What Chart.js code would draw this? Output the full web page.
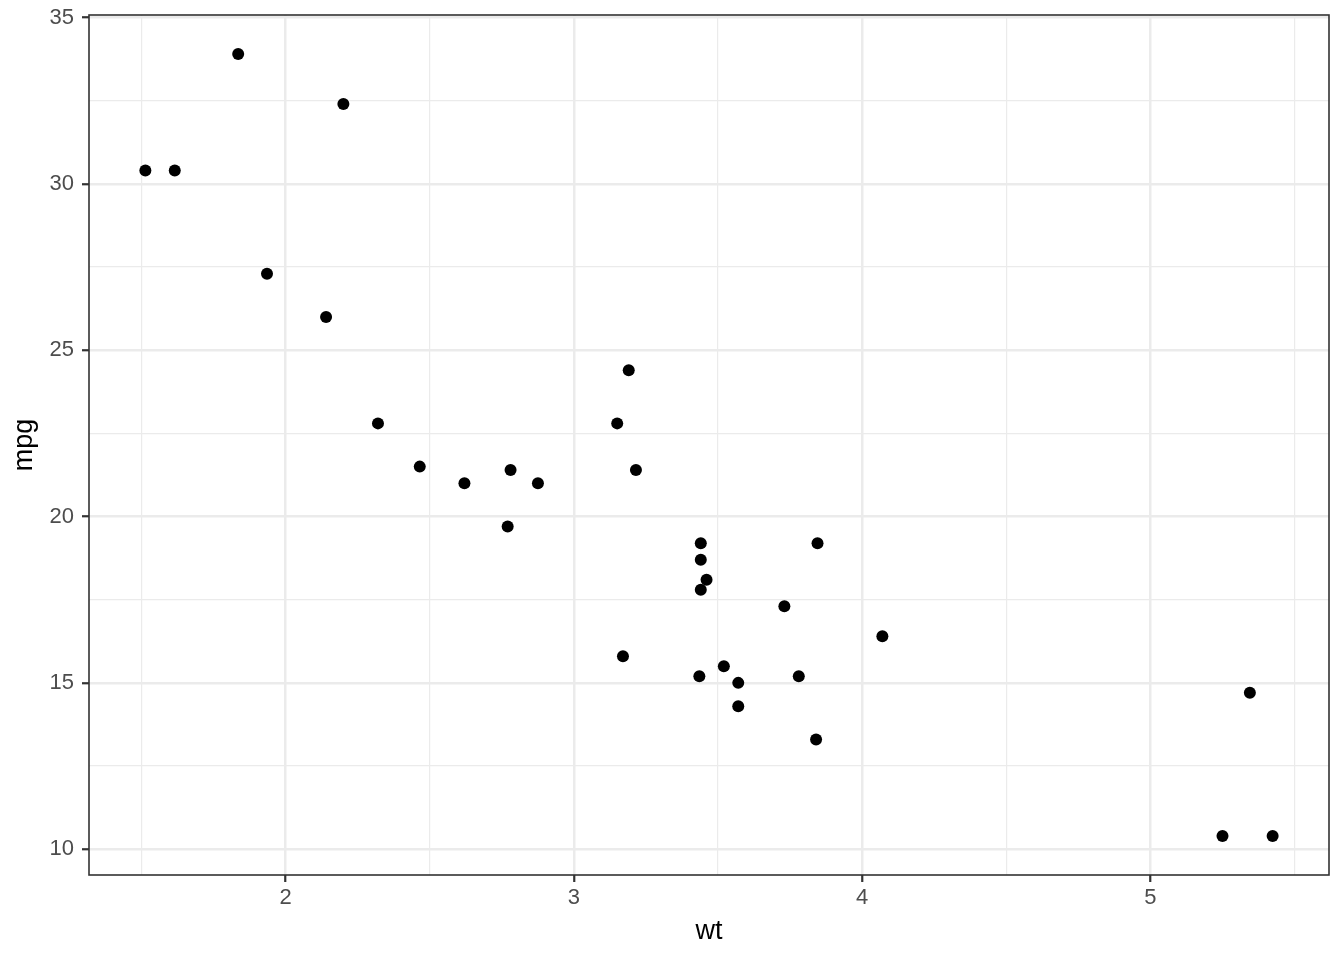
<!DOCTYPE html>
<html>
<head>
<meta charset="utf-8">
<script src="https://cdn.jsdelivr.net/npm/chart.js@4/dist/chart.umd.min.js"></script>
<style>
html,body{margin:0;padding:0;background:#fff;}
#wrap{width:1344px;height:960px;position:relative;}
</style>
</head>
<body>
<div id="wrap"><canvas id="c" width="1344" height="960"></canvas></div>
<script>
const wt = [2.620,2.875,2.320,3.215,3.440,3.460,3.570,3.190,3.150,3.440,3.440,4.070,3.730,3.780,5.250,5.424,5.345,2.200,1.615,1.835,2.465,3.520,3.435,3.840,3.845,1.935,2.140,1.513,3.170,2.770,3.570,2.780];
const mpg = [21.0,21.0,22.8,21.4,18.7,18.1,14.3,24.4,22.8,19.2,17.8,16.4,17.3,15.2,10.4,10.4,14.7,32.4,30.4,33.9,21.5,15.5,15.2,13.3,19.2,27.3,26.0,30.4,15.8,19.7,15.0,21.4];
const xTicks = [2,3,4,5];
const xMinor = [1.5,2.5,3.5,4.5,5.5];
const yTicks = [10,15,20,25,30,35];
const yMinor = [12.5,17.5,22.5,27.5,32.5];

function expand(arr){const mn=Math.min(...arr),mx=Math.max(...arr),d=(mx-mn)*0.05;return [mn-d,mx+d];}
const [xMin,xMax]=expand(wt);
const [yMin,yMax]=expand(mpg);

const FONT='"Liberation Sans", Arial, Helvetica, sans-serif';
const GRID='#EBEBEB';
const isMajor=(v,maj)=>maj.some(m=>Math.abs(m-v)<1e-9);

const panelBorder={
  id:'panelBorder',
  afterDraw(chart){
    const a=chart.chartArea, ctx=chart.ctx;
    ctx.save();
    ctx.strokeStyle='#333333';
    ctx.lineWidth=1.6;
    ctx.strokeRect(a.left,a.top,a.right-a.left,a.bottom-a.top);
    ctx.restore();
  }
};

function gridOpts(maj){
  return {
    color:(c)=>GRID,
    lineWidth:(c)=>{const v=c.tick?c.tick.value:null;return isMajor(v,maj)?2.5:1.2;},
    drawTicks:true,
    tickLength:7,
    tickColor:(c)=>{const v=c.tick?c.tick.value:null;return isMajor(v,maj)?'#333333':'rgba(0,0,0,0)';},
    tickWidth:2.2
  };
}

new Chart(document.getElementById('c'),{
  type:'scatter',
  data:{datasets:[{
    data:wt.map((w,i)=>({x:w,y:mpg[i]})),
    backgroundColor:'#000000',
    borderWidth:0,
    pointRadius:6,
    pointHoverRadius:6
  }]},
  options:{
    responsive:false,
    animation:false,
    devicePixelRatio:1,
    layout:{padding:{left:0,right:15,top:15,bottom:0}},
    plugins:{legend:{display:false},tooltip:{enabled:false}},
    scales:{
      x:{
        type:'linear',min:xMin,max:xMax,
        afterBuildTicks:(s)=>{s.ticks=[...xMinor,...xTicks].sort((a,b)=>a-b).map(v=>({value:v}));},
        afterFit:(s)=>{s.height=85;s.paddingLeft=0;s.paddingRight=0;},
        grid:gridOpts(xTicks),
        border:{display:false},
        ticks:{
          autoSkip:false,maxRotation:0,padding:3,color:'#4D4D4D',
          font:{family:FONT,size:22},
          callback:(v)=>isMajor(v,xTicks)?String(v):''
        },
        title:{display:true,text:'wt',color:'#000000',font:{family:FONT,size:27},padding:{top:0,bottom:12}}
      },
      y:{
        type:'linear',min:yMin,max:yMax,
        afterBuildTicks:(s)=>{s.ticks=[...yMinor,...yTicks].sort((a,b)=>a-b).map(v=>({value:v}));},
        afterFit:(s)=>{s.width=89;s.paddingTop=0;s.paddingBottom=0;},
        grid:gridOpts(yTicks),
        border:{display:false},
        ticks:{
          autoSkip:false,padding:8,color:'#4D4D4D',
          font:{family:FONT,size:22},
          callback:(v)=>isMajor(v,yTicks)?String(v):''
        },
        title:{display:true,text:'mpg',color:'#000000',font:{family:FONT,size:27},padding:{top:8,bottom:0}}
      }
    }
  },
  plugins:[panelBorder]
});
</script>
</body>
</html>
